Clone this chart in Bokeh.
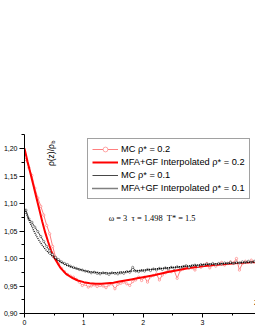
from bokeh.plotting import figure
from bokeh.models import (Range1d, SingleIntervalTicker, CustomJSTickFormatter,
                          Label, Legend, LegendItem)
from bokeh.embed import file_html
from bokeh.resources import INLINE

# ---------------- data ----------------
z_mfa = [0, 0.05, 0.1, 0.15, 0.2, 0.25, 0.3, 0.35, 0.4, 0.45, 0.5, 0.6, 0.7, 0.8,
         0.9, 1.0, 1.1, 1.2, 1.3, 1.4, 1.5, 1.6, 1.7, 1.8, 1.9, 2.0, 2.2, 2.4,
         2.6, 2.8, 3.0, 3.2, 3.4, 3.6, 3.8, 3.9]
mfa_02 = [1.200, 1.177, 1.155, 1.133, 1.111, 1.089, 1.067, 1.047, 1.030, 1.014,
          1.002, 0.984, 0.972, 0.965, 0.960, 0.957, 0.955, 0.954, 0.954, 0.955,
          0.956, 0.958, 0.960, 0.962, 0.964, 0.966, 0.970, 0.975, 0.979, 0.983,
          0.986, 0.988, 0.990, 0.992, 0.993, 0.994]
mfa_01 = [1.090, 1.076, 1.064, 1.052, 1.041, 1.032, 1.024, 1.017, 1.011, 1.006,
          1.001, 0.994, 0.988, 0.984, 0.981, 0.978, 0.976, 0.975, 0.974, 0.974,
          0.974, 0.975, 0.976, 0.977, 0.978, 0.979, 0.981, 0.983, 0.985, 0.987,
          0.989, 0.990, 0.991, 0.992, 0.993, 0.994]

z_mc = [0.025, 0.075, 0.125, 0.175, 0.225, 0.275, 0.325, 0.375, 0.425, 0.475,
        0.525, 0.575, 0.625, 0.675, 0.725, 0.775, 0.825, 0.875, 0.925, 0.975,
        1.025, 1.075, 1.125, 1.175, 1.225, 1.275, 1.325, 1.375, 1.425, 1.475,
        1.525, 1.575, 1.625, 1.675, 1.725, 1.775, 1.825, 1.875, 1.925, 1.975,
        2.025, 2.075, 2.125, 2.175, 2.225, 2.275, 2.325, 2.375, 2.425, 2.475,
        2.525, 2.575, 2.625, 2.675, 2.725, 2.775, 2.825, 2.875, 2.925, 2.975,
        3.025, 3.075, 3.125, 3.175, 3.225, 3.275, 3.325, 3.375, 3.425, 3.475,
        3.525, 3.575, 3.625, 3.675, 3.725, 3.775, 3.825, 3.875, 3.925]
mc_02 = [1.180, 1.165, 1.151, 1.128, 1.110, 1.095, 1.079, 1.060, 1.045, 1.022,
         1.002, 0.990, 0.982, 0.976, 0.971, 0.968, 0.966, 0.962, 0.957, 0.951,
         0.953, 0.948, 0.950, 0.952, 0.949, 0.951, 0.950, 0.947, 0.952, 0.954,
         0.945, 0.953, 0.955, 0.957, 0.954, 0.951, 0.958, 0.961, 0.966, 0.960,
         0.966, 0.957, 0.967, 0.969, 0.972, 0.961, 0.970, 0.974, 0.979, 0.976,
         0.978, 0.964, 0.978, 0.981, 0.985, 0.982, 0.983, 0.979, 0.986, 0.984,
         0.988, 0.991, 0.983, 0.989, 0.986, 0.990, 0.993, 0.988, 0.991, 0.994,
         0.992, 1.000, 0.979, 0.991, 0.995, 0.993, 0.997, 0.993, 0.995]
mc_01 = [1.088, 1.072, 1.066, 1.057, 1.049, 1.040, 1.031, 1.022, 1.014, 1.007,
         1.002, 0.998, 0.994, 0.991, 0.989, 0.986, 0.984, 0.982, 0.980, 0.979,
         0.977, 0.976, 0.974, 0.975, 0.973, 0.972, 0.974, 0.973, 0.971, 0.974,
         0.973, 0.972, 0.974, 0.973, 0.976, 0.975, 0.984, 0.977, 0.976, 0.978,
         0.977, 0.980, 0.978, 0.981, 0.979, 0.982, 0.980, 0.983, 0.981, 0.984,
         0.982, 0.985, 0.983, 0.985, 0.987, 0.984, 0.987, 0.988, 0.986, 0.989,
         0.988, 0.990, 0.989, 0.991, 0.989, 0.991, 0.990, 0.992, 0.991, 0.993,
         0.991, 0.993, 0.992, 0.994, 0.993, 0.995, 0.993, 0.995, 0.994]

labels = ["MC \u03c1* = 0.2", "MFA+GF Interpolated \u03c1* = 0.2",
          "MC \u03c1* = 0.1", "MFA+GF Interpolated \u03c1* = 0.1"]
params_text = "\u03c9 = 3\u00a0\u00a0\u03c4 = 1.498\u00a0\u00a0T* = 1.5"

# ---------------- figure ----------------
p = figure(width=255, height=322, output_backend="svg", toolbar_location=None,
           x_range=Range1d(0, 3.896), y_range=Range1d(0.9, 1.2255),
           min_border_left=22, min_border_right=0, min_border_top=126,
           min_border_bottom=17, margin=(8, 0, 0, 0))
p.outline_line_color = None
p.xgrid.visible = False
p.ygrid.visible = False
p.background_fill_color = "white"
p.border_fill_color = "white"

p.xaxis.ticker = SingleIntervalTicker(interval=1, num_minor_ticks=2)
p.yaxis.ticker = SingleIntervalTicker(interval=0.05, num_minor_ticks=2)
p.yaxis.formatter = CustomJSTickFormatter(code="return tick.toFixed(2).replace('.', ',');")
p.xaxis.formatter = CustomJSTickFormatter(code="return tick.toFixed(0);")
for ax in (p.xaxis, p.yaxis):
    ax.axis_line_color = "black"
    ax.axis_line_width = 1
    ax.major_tick_line_color = "black"
    ax.minor_tick_line_color = "black"
    ax.major_tick_in = 0
    ax.minor_tick_in = 0
    ax.major_label_text_font = "Liberation Sans"
    ax.major_label_text_font_size = "7px"
    ax.major_label_text_color = "black"
    ax.major_label_standoff = 2
p.yaxis.major_tick_out = 5
p.yaxis.minor_tick_out = 3
p.xaxis.major_tick_out = 4
p.xaxis.minor_tick_out = 2

# ---------------- series ----------------
r_mc02_line = p.line(z_mc, mc_02, line_color="#ff7f7f", line_width=1)
r_mc02_pts = p.scatter(z_mc, mc_02, marker="circle", size=2.3, line_color="#ff7f7f",
                       fill_color="white", line_width=0.7)
r_mfa02 = p.line(z_mfa, mfa_02, line_color="#ff0000", line_width=2)
r_mc01_line = p.line(z_mc, mc_01, line_color="#333333", line_width=0.9)
r_mc01_pts = p.scatter(z_mc, mc_01, marker="circle", size=2.2, line_color="#333333",
                       fill_color="white", line_width=0.5)
r_mfa01 = p.line(z_mfa, mfa_01, line_color="black", line_width=1.3, line_dash="1 1")

legend = Legend(items=[
    LegendItem(label=labels[0], renderers=[r_mc02_line, r_mc02_pts]),
    LegendItem(label=labels[1], renderers=[r_mfa02]),
    LegendItem(label=labels[2], renderers=[r_mc01_line]),
    LegendItem(label=labels[3], renderers=[r_mfa01]),
], location=(63, 114))
legend.margin = 0
legend.padding = 4
legend.spacing = 1
legend.label_height = 12
legend.glyph_height = 12
legend.glyph_width = 26
legend.label_standoff = 3
legend.label_text_font = "Liberation Sans"
legend.label_text_font_size = "9.25px"
legend.label_text_color = "black"
legend.border_line_color = "#444444"
legend.border_line_width = 1
legend.background_fill_color = "white"
legend.background_fill_alpha = 1
p.add_layout(legend, "center")

# ---------------- annotations ----------------
p.add_layout(Label(x=1.42, y=1.0733, text=params_text, text_font="Liberation Serif",
                   text_font_size="8.4px", text_baseline="middle", text_align="left",
                   text_color="black"))
p.add_layout(Label(x=0.45, y=1.168, text="\u03c1(z)/\u03c1", angle=1.5708,
                   text_font="Liberation Sans", text_font_size="8.5px",
                   text_baseline="middle", text_align="left", text_color="black"))
p.add_layout(Label(x=0.485, y=1.2085, text="b", angle=1.5708,
                   text_font="Liberation Sans", text_font_size="6px",
                   text_baseline="middle", text_align="left", text_color="black"))
p.add_layout(Label(x=3.871, y=0.9205, text="z", text_font="Liberation Sans",
                   text_font_size="9px", text_baseline="middle", text_align="left",
                   text_color="black"))

open("out.html", "w").write(file_html(p, INLINE))
